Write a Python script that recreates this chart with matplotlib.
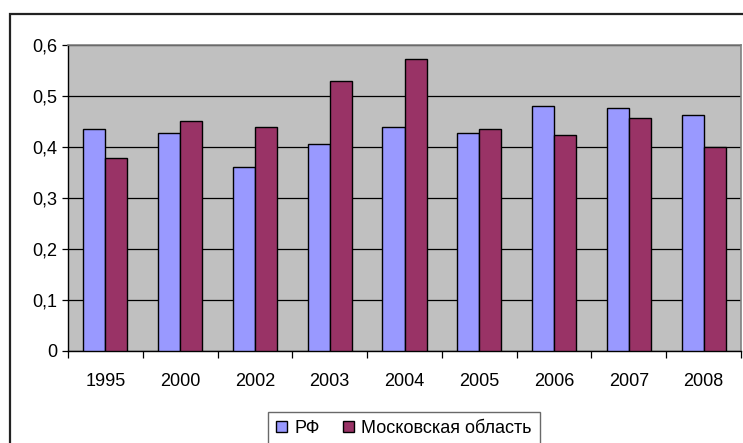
import matplotlib
matplotlib.use("Agg")
import matplotlib.pyplot as plt
import numpy as np
from matplotlib.patches import Rectangle

years = ["1995", "2000", "2002", "2003", "2004", "2005", "2006", "2007", "2008"]
rf = [0.434, 0.426, 0.360, 0.406, 0.438, 0.426, 0.479, 0.475, 0.461]
moscow = [0.378, 0.450, 0.438, 0.529, 0.571, 0.435, 0.422, 0.456, 0.399]
y_ticks = [0, 0.1, 0.2, 0.3, 0.4, 0.5, 0.6]
y_labels = ["0", "0,1", "0,2", "0,3", "0,4", "0,5", "0,6"]

plt.rcParams["font.family"] = ["Liberation Sans", "DejaVu Sans"]
FS = 13

fig = plt.figure(figsize=(7.43, 4.43), dpi=100)
ax = fig.add_axes([68 / 743, 1 - 350.7 / 443, 673 / 743, 306.2 / 443])

# outer chart frame (cut off at right and bottom, as in the reference)
fig.patches.append(Rectangle((10 / 743, -0.1), 1.2, (443 - 14) / 443 + 0.1,
                             transform=fig.transFigure, fill=False,
                             edgecolor="#222222", linewidth=1.6))

x = np.arange(len(years))
w = 0.295
ax.set_facecolor("#C0C0C0")
ax.bar(x - w / 2, rf, w, color="#9999FF", edgecolor="black", linewidth=1.0,
       label="РФ", zorder=3)
ax.bar(x + w / 2, moscow, w, color="#993366", edgecolor="black", linewidth=1.0,
       label="Московская область", zorder=3)

ax.set_xlim(-0.5, len(years) - 0.5)
ax.set_ylim(0, 0.6)
ax.set_yticks(y_ticks)
ax.set_yticklabels(y_labels, fontsize=FS)
ax.yaxis.grid(True, color="black", linewidth=0.9, zorder=1)
ax.set_axisbelow(True)

# category labels at centres, tick marks between categories
ax.set_xticks(x)
ax.set_xticklabels(years, fontsize=FS)
ax.tick_params(axis="x", length=0, pad=16)
ax.set_xticks(np.arange(-0.5, len(years)), minor=True)
ax.tick_params(axis="x", which="minor", length=5, width=0.9, color="black")
ax.tick_params(axis="y", length=4, width=0.9, color="black", pad=4)

for side in ["top", "right"]:
    ax.spines[side].set_color("#808080")
    ax.spines[side].set_linewidth(1.2)
for side in ["left", "bottom"]:
    ax.spines[side].set_color("black")
    ax.spines[side].set_linewidth(1.0)

leg = fig.legend(loc="upper left", bbox_to_anchor=(268 / 743, 1 - 412 / 443),
                 ncol=2, fontsize=FS, frameon=True, fancybox=False,
                 handlelength=0.6, handleheight=0.6, handletextpad=0.4,
                 columnspacing=1.3, borderpad=0.45, borderaxespad=0)
leg.get_frame().set_edgecolor("#444444")
leg.get_frame().set_linewidth(1.0)

fig.savefig("out.png", dpi=100)
